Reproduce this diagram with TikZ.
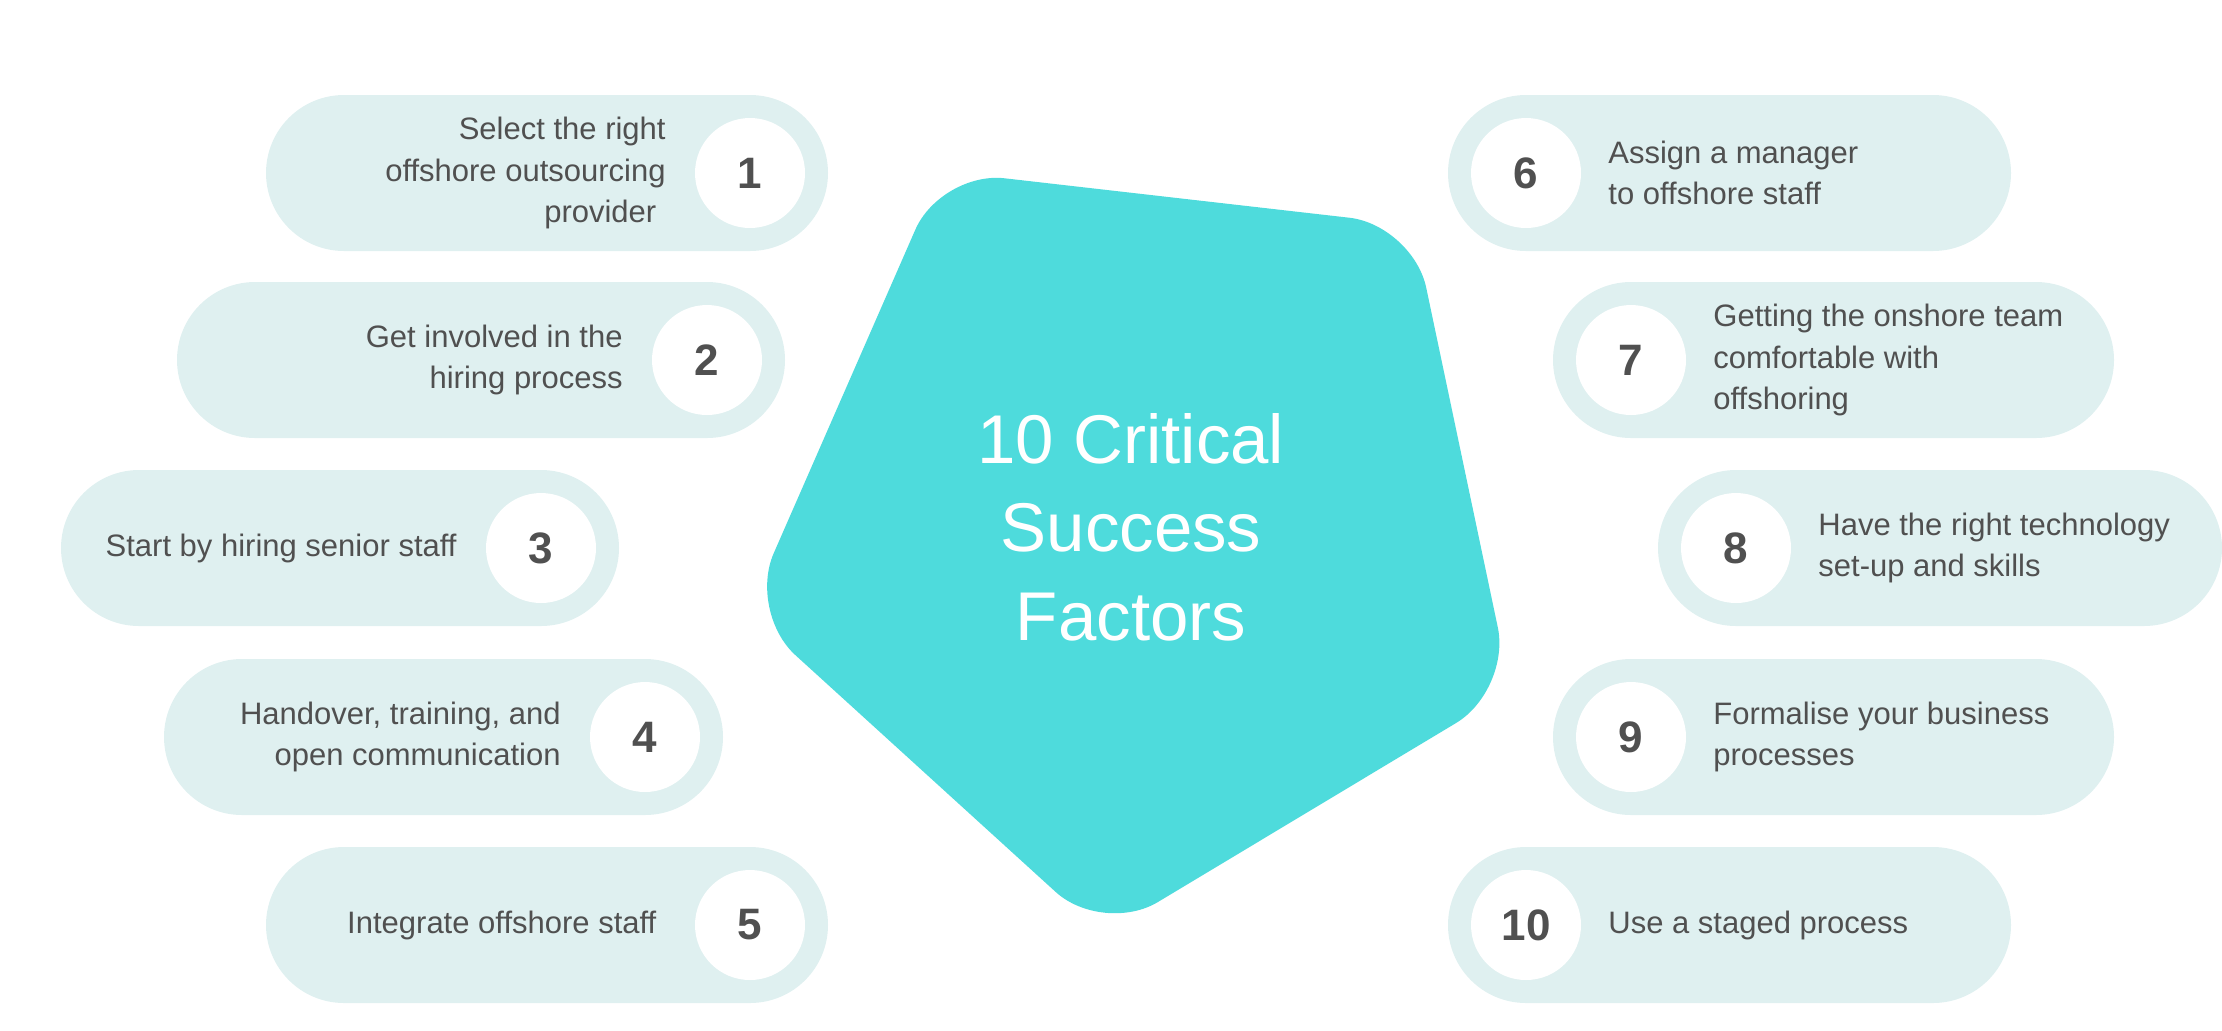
\documentclass[tikz,border=0pt]{standalone}
\usepackage{fontspec}
\setmainfont{Liberation Sans}
\usetikzlibrary{shapes.misc}
\definecolor{pillc}{HTML}{DFF0F0}
\definecolor{pentc}{HTML}{4EDBDC}
\definecolor{txtc}{HTML}{505050}
\newcommand{\leftpill}[6]{% name, L, R, y, text, number
  \node[pillbox, minimum width={(#3-#2)*0.5pt}] (pill#1) at ({(#2+#3)/2},#4) {};
  \node[numcirc] (num#1) at ({#3-78},#4) {#6};
  \node[ptext, anchor=east, align=right] (txt#1) at ({#3-162},#4) {#5};
}
\newcommand{\rightpill}[6]{% name, L, R, y, text, number
  \node[pillbox, minimum width={(#3-#2)*0.5pt}] (pill#1) at ({(#2+#3)/2},#4) {};
  \node[numcirc] (num#1) at ({#2+78},#4) {#6};
  \node[ptext, anchor=west, align=left] (txt#1) at ({#2+160},#4) {#5};
}
\begin{document}
\begin{tikzpicture}[x=0.5pt,y=-0.5pt,
  pillbox/.style={rounded rectangle, fill=pillc, draw=none, minimum height=78pt, inner sep=0pt},
  numcirc/.style={circle, fill=white, draw=none, minimum size=55pt, inner sep=0pt, text=txtc, font=\fontsize{22}{26}\selectfont\bfseries},
  ptext/.style={text=txtc, inner sep=0pt, font=\fontsize{15.5}{20.8}\selectfont},
  titletext/.style={text=white, align=center, inner sep=0pt, font=\fontsize{34.5}{44.3}\selectfont}]
\useasboundingbox (0,0) rectangle (2222,1030);
% central pentagon
\fill[pentc, rounded corners=32pt] (1177,198) -- (1413,225) -- (1511,690) -- (1103,935) -- (748,612) -- (941,171) -- cycle;
\node[titletext] (title) at (1131,527) {10 Critical\\Success\\Factors};
% left pills
\leftpill{1}{266}{828}{173}{Select the right\\offshore outsourcing\\provider\hspace*{0.3em}}{1}
\leftpill{2}{177}{785}{360}{Get involved in the\\hiring process}{2}
\leftpill{3}{61}{619}{548}{Start by hiring senior staff}{3}
\leftpill{4}{164}{723}{737}{Handover, training, and\\open communication}{4}
\leftpill{5}{266}{828}{925}{Integrate offshore staff\hspace*{0.3em}}{5}
% right pills
\rightpill{6}{1448}{2011}{173}{Assign a manager\\to offshore staff}{6}
\rightpill{7}{1553}{2114}{360}{Getting the onshore team\\comfortable with\\offshoring}{7}
\rightpill{8}{1658}{2222}{548}{Have the right technology\\set-up and skills}{8}
\rightpill{9}{1553}{2114}{737}{Formalise your business\\processes}{9}
\rightpill{10}{1448}{2011}{925}{Use a staged process}{10}
\end{tikzpicture}
\end{document}
